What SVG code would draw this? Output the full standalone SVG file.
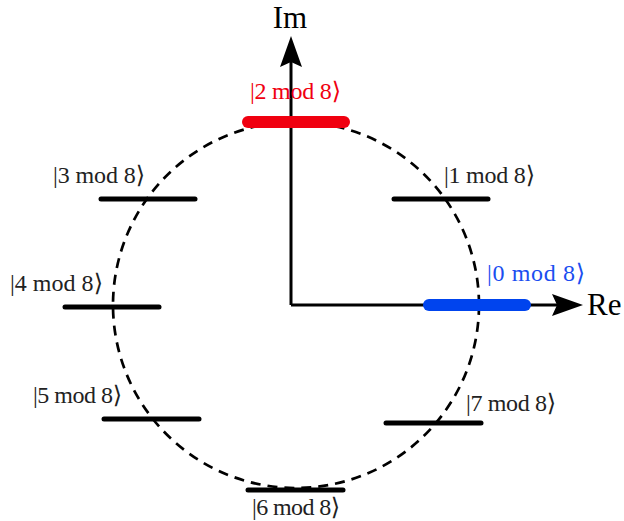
<svg xmlns="http://www.w3.org/2000/svg" width="624" height="521" viewBox="0 0 624 521">
<style>
text{font-family:"Liberation Serif","DejaVu Serif",serif;font-size:24px;fill:#222}
.ax{font-size:31px;fill:#000}
.bar{stroke:#000;stroke-width:5;stroke-linecap:round}
.big{stroke-width:12}
</style>
<rect width="624" height="521" fill="#fff"/>
<g id="circle"><circle cx="296" cy="305" r="183" fill="none" stroke="#000" stroke-width="2.7" stroke-dasharray="10,7"/></g>
<g id="connectors">
<line x1="291" y1="305" x2="291" y2="60" stroke="#000" stroke-width="3"/>
<polygon points="291,36 302,67 291,62 280,67" fill="#000"/>
<line x1="291" y1="305" x2="558" y2="305" stroke="#000" stroke-width="3"/>
<polygon points="583,305 552,316 557,305 552,294" fill="#000"/>
</g>
<g id="axis-im"><text class="ax" x="290" y="28" text-anchor="middle">Im</text></g>
<g id="axis-re"><text class="ax" x="587" y="315">Re</text></g>
<g id="s0"><line class="bar big" x1="429" y1="305" x2="525" y2="305" style="stroke:#0044ee"/><text x="487" y="281" textLength="98" style="fill:#1a4ef0">|0 mod 8⟩</text></g>
<g id="s1"><line class="bar" x1="394" y1="199" x2="488" y2="199"/><text x="444" y="183" textLength="91">|1 mod 8⟩</text></g>
<g id="s2"><line class="bar big" x1="248" y1="122" x2="344" y2="122" style="stroke:#f00010"/><text x="250" y="99" textLength="91" style="fill:#f00010">|2 mod 8⟩</text></g>
<g id="s3"><line class="bar" x1="101" y1="199" x2="195" y2="199"/><text x="53" y="183" textLength="92">|3 mod 8⟩</text></g>
<g id="s4"><line class="bar" x1="65" y1="307" x2="159" y2="307"/><text x="10" y="291" textLength="93">|4 mod 8⟩</text></g>
<g id="s5"><line class="bar" x1="104" y1="419" x2="199" y2="419"/><text x="33" y="403" textLength="89">|5 mod 8⟩</text></g>
<g id="s6"><line class="bar" x1="248" y1="490" x2="343" y2="490"/><text x="252" y="515" textLength="88">|6 mod 8⟩</text></g>
<g id="s7"><line class="bar" x1="386" y1="423" x2="481" y2="423"/><text x="466" y="411" textLength="90">|7 mod 8⟩</text></g>
</svg>
